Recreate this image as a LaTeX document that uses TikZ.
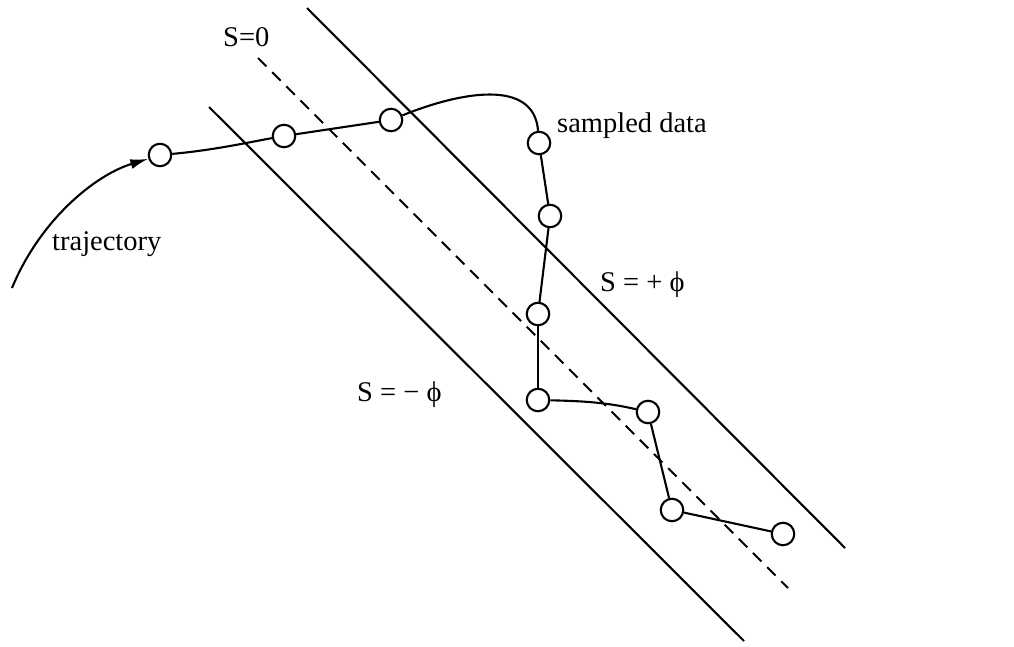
\documentclass[tikz,border=0pt]{standalone}
\usepackage{fontspec}
\setmainfont{Liberation Serif}
\usetikzlibrary{arrows.meta}
\begin{document}
\begin{tikzpicture}[x=1pt,y=-1pt,
  bound/.style={line width=2.1pt},
  zeroline/.style={line width=2.1pt, dash pattern=on 12pt off 8pt},
  sample/.style={circle, draw, line width=2.1pt, minimum size=22.5pt, inner sep=0pt, fill=white},
  traj/.style={line width=2.1pt},
  lbl/.style={font=\fontsize{28.5}{32}\selectfont, inner sep=0pt, anchor=base west}]
\useasboundingbox (0,0) rectangle (1014,646);
% boundary lines
\coordinate (upA) at (307,8);   \coordinate (upB) at (845,548);
\coordinate (loA) at (209,107); \coordinate (loB) at (744,641);
\coordinate (zA) at (258,58);   \coordinate (zB) at (788,588);
\draw[bound] (upA) -- (upB);
\draw[bound] (loA) -- (loB);
\draw[zeroline] (zA) -- (zB);
% sampled points
\node[sample] (c1) at (160,155) {};
\node[sample] (c2) at (284,136) {};
\node[sample] (c3) at (391,120) {};
\node[sample] (c4) at (539,143) {};
\node[sample] (c5) at (550,216) {};
\node[sample] (c6) at (538,314) {};
\node[sample] (c7) at (538,400) {};
\node[sample] (c8) at (648,412) {};
\node[sample] (c9) at (672,510) {};
\node[sample] (c10) at (783,534) {};
% trajectory
\coordinate (tstart) at (12,288);
\draw[traj,-{Latex[length=18pt,width=10pt]}] (tstart) .. controls (40,220) and (95,175) .. (c1.198);
\draw[traj] (c1) .. controls (215,150) and (250,142) .. (c2);
\draw[traj] (c2) -- (c3);
\draw[traj] (c3) .. controls (460,92) and (534,78) .. (c4);
\draw[traj] (c4) -- (c5);
\draw[traj] (c5) -- (c6);
\draw[traj] (c6) -- (c7);
\draw[traj] (c7) .. controls (580,401) and (605,402) .. (c8);
\draw[traj] (c8) -- (c9);
\draw[traj] (c9) -- (c10);
% labels
\node[lbl] (l0) at (223,46) {S=0};
\node[lbl] (lsd) at (557,132) {sampled data};
\node[lbl] (ltr) at (52,250) {trajectory};
\node[lbl] (lp) at (600,291) {S = + ϕ};
\node[lbl] (lm) at (357,401) {S = − ϕ};
\end{tikzpicture}
\end{document}
